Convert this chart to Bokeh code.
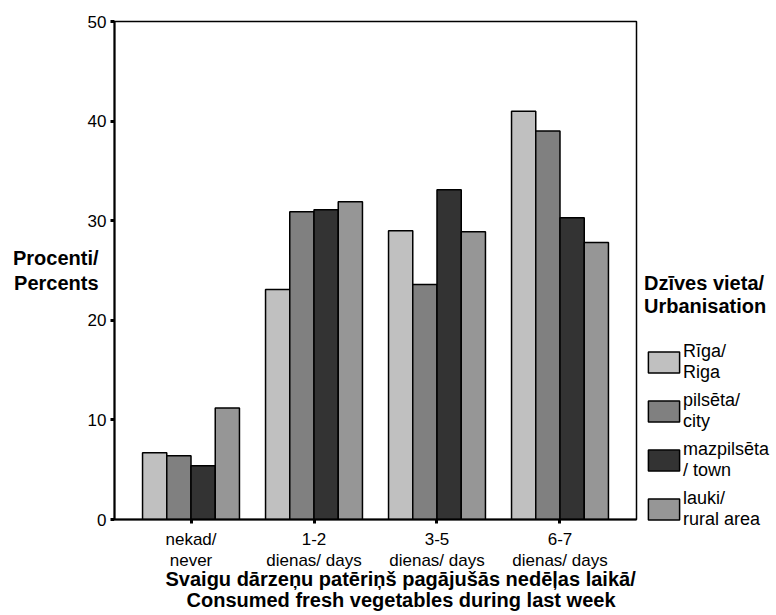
from bokeh.plotting import figure
from bokeh.layouts import row
from bokeh.models import (FactorRange, SingleIntervalTicker, Legend, LegendItem,
                          ColumnDataSource, Title, Range1d)
from bokeh.transform import dodge
from bokeh.embed import file_html
from bokeh.resources import INLINE

# ---- data ----
categories = ["nekad/\nnever", "1-2\ndienas/ days", "3-5\ndienas/ days", "6-7\ndienas/ days"]
series_names = ["Rīga/\nRiga", "pilsēta/\ncity", "mazpilsēta\n/ town", "lauki/\nrural area"]
riga = [6.7, 23.1, 29.0, 41.0]
city = [6.4, 30.9, 23.6, 39.0]
town = [5.4, 31.1, 33.1, 30.3]
rural = [11.2, 31.9, 28.9, 27.8]
colors = ["#c0c0c0", "#808080", "#333333", "#969696"]
y_title = "Procenti/\nPercents"
x_title_lines = ["Svaigu dārzeņu patēriņš pagājušās nedēļas laikā/",
                 "Consumed fresh vegetables during last week"]
legend_title = "Dzīves vieta/\nUrbanisation"

FONT = "Liberation Sans"

source = ColumnDataSource(dict(cat=categories, riga=riga, city=city, town=town, rural=rural))

# ---- main chart ----
p = figure(
    width=640, height=615,
    x_range=FactorRange(*categories, range_padding=0.122, range_padding_units="absolute"),
    y_range=(0, 50),
    output_backend="svg", toolbar_location=None,
    min_border_left=114, min_border_right=4, min_border_top=21, min_border_bottom=94,
)

bar_w = 0.197
offsets = [-1.5 * bar_w, -0.5 * bar_w, 0.5 * bar_w, 1.5 * bar_w]
fields = ["riga", "city", "town", "rural"]
for f, off, c in zip(fields, offsets, colors):
    p.vbar(x=dodge("cat", off, range=p.x_range), top=f, width=bar_w, source=source,
           fill_color=c, line_color="black", line_width=1.5)

p.xgrid.visible = False
p.ygrid.visible = False
p.outline_line_color = "black"
p.outline_line_width = 1.5

p.yaxis.ticker = SingleIntervalTicker(interval=10)
p.yaxis.minor_tick_line_color = None
p.yaxis.major_tick_in = 0
p.yaxis.major_tick_out = 4
p.yaxis.major_tick_line_width = 3
p.yaxis.axis_line_width = 2
p.yaxis.major_label_standoff = 4
p.yaxis.major_label_text_font = FONT
p.yaxis.major_label_text_font_size = "17px"
p.yaxis.major_label_text_color = "black"
p.yaxis.axis_label = y_title
p.yaxis.axis_label_orientation = "horizontal"
p.yaxis.axis_label_standoff = -14
p.yaxis.axis_label_text_font = FONT
p.yaxis.axis_label_text_font_style = "bold"
p.yaxis.axis_label_text_font_size = "20px"
p.yaxis.axis_label_text_color = "black"
p.yaxis.axis_label_text_line_height = 1.15

p.xaxis.major_tick_in = 0
p.xaxis.major_tick_out = 4
p.xaxis.major_tick_line_width = 3
p.xaxis.axis_line_width = 2
p.xaxis.major_label_standoff = 6
p.xaxis.major_label_text_font = FONT
p.xaxis.major_label_text_font_size = "17px"
p.xaxis.major_label_text_color = "black"
p.xaxis.major_label_text_line_height = 1.15
p.xaxis.major_label_orientation = "horizontal"

for line, off, so in zip(x_title_lines, [51, 72], [-12, 6]):
    p.add_layout(Title(text=line, align="left", offset=off, standoff=so, vertical_align="top",
                       text_font=FONT, text_font_style="bold", text_font_size="20px",
                       text_color="black"), "below")

# ---- legend canvas to the right (proxy renderers are hidden; legend uses their styles) ----
q = figure(width=136, height=615, x_range=p.x_range, y_range=Range1d(0, 50),
           x_axis_type=None, y_axis_type=None, output_backend="svg", toolbar_location=None,
           min_border=0, outline_line_color=None)
q.xgrid.visible = False
q.ygrid.visible = False
proxies = []
for f, off, c in zip(fields, offsets, colors):
    r = q.vbar(x=dodge("cat", off, range=p.x_range), top=f, width=bar_w, source=source,
               fill_color=c, line_color="black", line_width=1.5)
    r.visible = False
    proxies.append(r)

legend = Legend(
    items=[LegendItem(label=n, renderers=[r]) for n, r in zip(series_names, proxies)],
    location=(4, -11),
    title=legend_title,
    title_text_font=FONT, title_text_font_style="bold", title_text_font_size="20px",
    title_text_color="black", title_text_line_height=0.9, title_standoff=23,
    padding=0, margin=0, spacing=7,
    glyph_width=39, glyph_height=26, label_standoff=0,
    label_text_font=FONT, label_text_font_size="18px", label_text_line_height=1.15,
    label_text_baseline="top", label_text_color="black",
    border_line_color=None, background_fill_alpha=0,
)
q.add_layout(legend, "left")

layout = row(p, q, spacing=0)
open("out.html", "w").write(file_html(layout, INLINE))
